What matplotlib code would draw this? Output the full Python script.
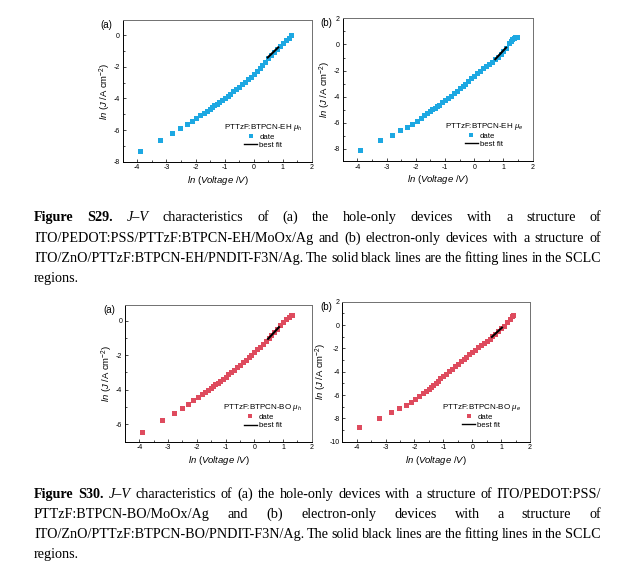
import matplotlib
matplotlib.use("Agg")
import matplotlib.pyplot as plt
from matplotlib.ticker import MultipleLocator
from matplotlib.lines import Line2D

plt.rcParams['font.family'] = ['Liberation Sans', 'DejaVu Sans']
plt.rcParams['mathtext.fontset'] = 'custom'
plt.rcParams['mathtext.rm'] = 'Liberation Sans'
plt.rcParams['mathtext.it'] = 'Liberation Sans:italic'
plt.rcParams['axes.unicode_minus'] = False

# ln(V) points of the sweep (same for every device)
x_common = [-3.91, -3.22, -2.81, -2.53, -2.30, -2.12, -1.97, -1.83, -1.71, -1.61,
            -1.51, -1.43, -1.35, -1.27, -1.20, -1.10, -1.00, -0.90, -0.80, -0.70,
            -0.60, -0.50, -0.40, -0.30, -0.20, -0.10, 0.00, 0.10, 0.20, 0.30,
            0.40, 0.50, 0.60, 0.70, 0.80, 0.90, 1.00, 1.10, 1.20]

# Figure S29 (a) hole-only, PTTzF:BTPCN-EH
eh_h_x = x_common + [1.28]
eh_h_y = [-7.32, -6.64, -6.20, -5.90, -5.64, -5.43, -5.25, -5.06, -4.90, -4.77,
          -4.66, -4.56, -4.45, -4.34, -4.25, -4.12, -3.98, -3.84, -3.70, -3.56,
          -3.42, -3.27, -3.12, -2.96, -2.79, -2.62, -2.44, -2.26, -2.07, -1.88,
          -1.68, -1.48, -1.28, -1.08, -0.88, -0.70, -0.52, -0.34, -0.16, -0.02]
eh_h_fit_x = [0.48, 0.84]
eh_h_fit_y = [-1.42, -0.78]

# Figure S29 (b) electron-only, PTTzF:BTPCN-EH
eh_e_x = x_common + [1.25, 1.30, 1.35, 1.40, 1.45]
eh_e_y = [-8.08, -7.33, -6.90, -6.58, -6.30, -6.06, -5.85, -5.62, -5.43, -5.26,
          -5.10, -4.97, -4.84, -4.71, -4.60, -4.44, -4.27, -4.10, -3.92, -3.74,
          -3.56, -3.37, -3.18, -2.99, -2.80, -2.60, -2.40, -2.20, -2.00, -1.84,
          -1.67, -1.50, -1.33, -1.15, -0.93, -0.71, -0.49, -0.26, 0.10,
          0.27, 0.40, 0.50, 0.56, 0.60]
eh_e_fit_x = [0.72, 1.09]
eh_e_fit_y = [-1.13, -0.24]

# Figure S30 (a) hole-only, PTTzF:BTPCN-BO
bo_h_x = x_common + [1.28, 1.32]
bo_h_y = [-6.42, -5.75, -5.33, -5.04, -4.80, -4.60, -4.42, -4.26, -4.13, -4.00,
          -3.88, -3.78, -3.68, -3.58, -3.49, -3.37, -3.24, -3.10, -2.96, -2.83,
          -2.69, -2.55, -2.41, -2.27, -2.12, -1.97, -1.82, -1.67, -1.52, -1.36,
          -1.20, -1.02, -0.84, -0.66, -0.48, -0.28, -0.08, 0.10, 0.23,
          0.30, 0.32]
bo_h_fit_x = [0.48, 0.86]
bo_h_fit_y = [-1.06, -0.38]

# Figure S30 (b) electron-only, PTTzF:BTPCN-BO
bo_e_x = x_common + [1.30, 1.38, 1.42]
bo_e_y = [-8.70, -7.94, -7.48, -7.13, -6.82, -6.57, -6.33, -6.08, -5.86, -5.66,
          -5.46, -5.29, -5.12, -4.95, -4.80, -4.58, -4.37, -4.16, -3.95, -3.74,
          -3.53, -3.33, -3.12, -2.92, -2.72, -2.52, -2.32, -2.12, -1.92, -1.73,
          -1.54, -1.35, -1.16, -0.96, -0.74, -0.51, -0.28, -0.04, 0.22,
          0.50, 0.75, 0.86]
bo_e_fit_x = [0.68, 1.03]
bo_e_fit_y = [-1.02, -0.22]

blue = '#1DA8E2'
red = '#DE4B5E'

W, H = 626, 573
fig = plt.figure(figsize=(W / 100, H / 100), dpi=100)


def px_box(left, top, right, bottom):
    return [left / W, 1 - bottom / H, (right - left) / W, (bottom - top) / H]


def panel(box, x, y, fx, fy, color, ylim, yticks, label, title):
    ax = fig.add_axes(px_box(*box))
    ax.plot(x, y, 's', ms=3.6, color=color, mec=color, mew=0, label='date')
    ax.plot(fx, fy, '-', color='black', lw=1.5, label='best fit')
    ax.set_xlim(-4.5, 2)
    ax.set_ylim(*ylim)
    ax.set_xticks([-4, -3, -2, -1, 0, 1, 2])
    ax.set_yticks(yticks)
    ax.xaxis.set_minor_locator(MultipleLocator(0.5))
    ax.yaxis.set_minor_locator(MultipleLocator(1))
    ax.tick_params(which='both', direction='in', top=False, right=False,
                   labelsize=5.0, width=0.5, pad=2)
    ax.tick_params(which='major', length=2.2)
    ax.tick_params(which='minor', length=1.3)
    for s in ['left', 'bottom']:
        ax.spines[s].set_linewidth(0.7)
    for s in ['top', 'right']:
        ax.spines[s].set_linewidth(0.7)
        ax.spines[s].set_color('#707070')
    ax.set_xlabel(r'$\mathit{ln}$ ($\mathit{Voltage}$ /$\mathit{V}$)', fontsize=6.8, labelpad=1.5)
    ax.set_ylabel(r'$\mathit{ln}$ ($\mathit{J}$ /A cm$^{-2}$)', fontsize=6.8, labelpad=0.5)
    handles = [Line2D([], [], marker='s', ls='none', ms=3.4, color=color, mew=0),
               Line2D([], [], color='black', lw=1.0)]
    ax.legend(handles, ['date', 'best fit'], title=title, loc='lower right',
              bbox_to_anchor=(0.95, 0.09), frameon=False, fontsize=5.6,
              title_fontsize=5.8, handlelength=1.7, handletextpad=0.25,
              labelspacing=0.1, borderaxespad=0, borderpad=0)
    fig.text((box[0] - 22) / W, 1 - (box[1] + 5) / H, label, fontsize=7.0,
             ha='left', va='center')
    return ax


panel((122.7, 20, 312, 161.7), eh_h_x, eh_h_y, eh_h_fit_x, eh_h_fit_y, blue,
      (-8, 0.95), [0, -2, -4, -6, -8], '(a)', r'PTTzF:BTPCN-EH $\mu_h$')
panel((342.7, 18.3, 532.7, 161), eh_e_x, eh_e_y, eh_e_fit_x, eh_e_fit_y, blue,
      (-8.92, 2), [2, 0, -2, -4, -6, -8], '(b)', r'PTTzF:BTPCN-EH $\mu_e$')
panel((125, 305, 311.7, 441.7), bo_h_x, bo_h_y, bo_h_fit_x, bo_h_fit_y, red,
      (-7, 0.9), [0, -2, -4, -6], '(a)', r'PTTzF:BTPCN-BO $\mu_h$')
panel((342.3, 301.7, 530, 441.7), bo_e_x, bo_e_y, bo_e_fit_x, bo_e_fit_y, red,
      (-10, 2), [2, 0, -2, -4, -6, -8, -10], '(b)', r'PTTzF:BTPCN-BO $\mu_e$')

# captions, justified like the page
cap_size = 10.2
renderer = fig.canvas.get_renderer()


def cap_line(y, words, justify=True, x0=34, x1=601):
    texts = []
    for w in words:
        style, txt = w[0], w[1:]
        t = fig.text(0, 1 - y / H, txt, fontsize=cap_size, va='baseline', ha='left',
                     family='Liberation Serif',
                     fontweight='bold' if style == 'b' else 'normal',
                     fontstyle='italic' if style == 'i' else 'normal')
        texts.append(t)
    widths = [t.get_window_extent(renderer).width for t in texts]
    if justify and len(texts) > 1:
        gap = (x1 - x0 - sum(widths)) / (len(texts) - 1)
    else:
        gap = cap_size * 1.389 * 0.25
    x = x0
    for t, w in zip(texts, widths):
        t.set_x(x / W)
        x += w + gap


def n(s):
    return ['n' + w for w in s.split()]


cap_line(221, ['bFigure', 'bS29.', 'iJ–V'] + n('characteristics of (a) the hole-only devices with a structure of'))
cap_line(242, n('ITO/PEDOT:PSS/PTTzF:BTPCN-EH/MoOx/Ag and (b) electron-only devices with a structure of'))
cap_line(262, n('ITO/ZnO/PTTzF:BTPCN-EH/PNDIT-F3N/Ag. The solid black lines are the fitting lines in the SCLC'))
cap_line(282, n('regions.'), justify=False)

cap_line(498, ['bFigure', 'bS30.', 'iJ–V'] + n('characteristics of (a) the hole-only devices with a structure of ITO/PEDOT:PSS/'))
cap_line(518, n('PTTzF:BTPCN-BO/MoOx/Ag and (b) electron-only devices with a structure of'))
cap_line(538, n('ITO/ZnO/PTTzF:BTPCN-BO/PNDIT-F3N/Ag. The solid black lines are the fitting lines in the SCLC'))
cap_line(558, n('regions.'), justify=False)

fig.savefig('out.png', dpi=100)
